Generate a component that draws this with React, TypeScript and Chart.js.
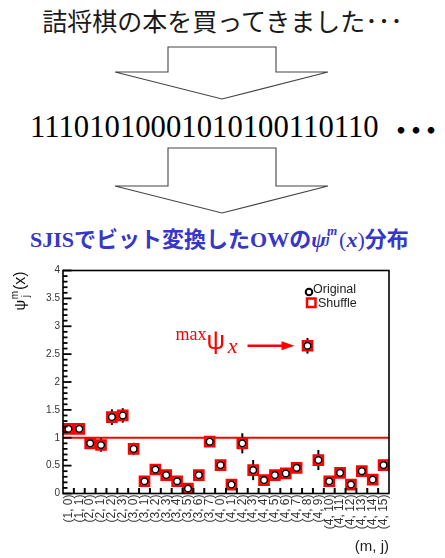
import React, { useEffect, useRef } from "react";
import { Chart, registerables } from "chart.js";

Chart.register(...registerables);

const CATEGORIES = [
  "(1, 0)", "(1, 1)",
  "(2, 0)", "(2, 1)", "(2, 2)", "(2, 3)",
  "(3, 0)", "(3, 1)", "(3, 2)", "(3, 3)", "(3, 4)", "(3, 5)", "(3, 6)", "(3, 7)",
  "(4, 0)", "(4, 1)", "(4, 2)", "(4, 3)", "(4, 4)", "(4, 5)", "(4, 6)", "(4, 7)",
  "(4, 8)", "(4, 9)", "(4, 10)", "(4, 11)", "(4, 12)", "(4, 13)", "(4, 14)", "(4, 15)",
];

const ORIGINAL = [
  1.16, 1.16, 0.9, 0.87, 1.37, 1.4, 0.8, 0.22, 0.43, 0.33, 0.22, 0.09, 0.33, 0.93,
  0.51, 0.16, 0.9, 0.42, 0.24, 0.33, 0.36, 0.46, 2.65, 0.6, 0.22, 0.37, 0.16, 0.4, 0.25, 0.51,
];

const ORIGINAL_ERR = [
  0.04, 0.04, 0.05, 0.12, 0.14, 0.13, 0.11, 0.05, 0.06, 0.05, 0.05, 0.04, 0.05, 0.06,
  0.06, 0.05, 0.18, 0.18, 0.05, 0.05, 0.05, 0.06, 0.14, 0.18, 0.05, 0.06, 0.05, 0.06, 0.05, 0.06,
];

const SHUFFLE = [
  1.16, 1.16, 0.9, 0.87, 1.37, 1.4, 0.8, 0.22, 0.43, 0.33, 0.22, 0.09, 0.33, 0.93,
  0.51, 0.16, 0.9, 0.42, 0.24, 0.33, 0.36, 0.46, 2.65, 0.6, 0.22, 0.37, 0.16, 0.4, 0.25, 0.51,
];

const Y_MIN = 0;
const Y_MAX = 4;
const Y_MAJOR_STEP = 0.5;
const Y_MINOR_STEP = 0.1;
const REFERENCE_LEVEL = 1;

const SANS = '"Liberation Sans", Arial, sans-serif';
const SERIF = '"Liberation Serif", "Times New Roman", serif';
const CJK = '"Noto Sans CJK JP", sans-serif';

const decorPlugin = {
  id: "decor",
  beforeDatasetsDraw(chart: any) {
    const { ctx, chartArea: a, scales } = chart;
    const x = scales.x;
    const y = scales.y;
    ctx.save();
    const yr = y.getPixelForValue(REFERENCE_LEVEL);
    ctx.strokeStyle = "#ff0000";
    ctx.lineWidth = 2;
    ctx.beginPath();
    ctx.moveTo(a.left, yr);
    ctx.lineTo(a.right, yr);
    ctx.stroke();
    ctx.strokeStyle = "#000";
    ctx.lineWidth = 2;
    ORIGINAL.forEach((v, i) => {
      const px = x.getPixelForValue(i);
      ctx.beginPath();
      ctx.moveTo(px, y.getPixelForValue(v - ORIGINAL_ERR[i]));
      ctx.lineTo(px, y.getPixelForValue(v + ORIGINAL_ERR[i]));
      ctx.stroke();
    });
    ctx.restore();
  },
  afterDraw(chart: any) {
    const { ctx, chartArea: a, scales } = chart;
    const x = scales.x;
    const y = scales.y;
    ctx.save();
    ctx.strokeStyle = "#000";
    ctx.lineWidth = 1.6;
    ctx.strokeRect(a.left, a.top, a.right - a.left, a.bottom - a.top);
    ctx.lineWidth = 1.8;
    const nMinor = Math.round((Y_MAX - Y_MIN) / Y_MINOR_STEP);
    const perMajor = Math.round(Y_MAJOR_STEP / Y_MINOR_STEP);
    for (let k = 0; k <= nMinor; k++) {
      const v = Y_MIN + k * Y_MINOR_STEP;
      const py = y.getPixelForValue(v);
      const len = k % perMajor === 0 ? 8.5 : 4.5;
      ctx.beginPath();
      ctx.moveTo(a.left, py);
      ctx.lineTo(a.left + len, py);
      ctx.stroke();
    }
    ctx.lineWidth = 2;
    for (let i = 1; i < CATEGORIES.length; i++) {
      const px = (x.getPixelForValue(i - 1) + x.getPixelForValue(i)) / 2;
      ctx.beginPath();
      ctx.moveTo(px, a.bottom);
      ctx.lineTo(px, a.bottom - 5.5);
      ctx.stroke();
    }
    // legend
    ctx.fillStyle = "#fff";
    ctx.strokeStyle = "#000";
    ctx.lineWidth = 2;
    ctx.beginPath();
    ctx.arc(a.right - 80, a.top + 21.5, 3.3, 0, Math.PI * 2);
    ctx.fill();
    ctx.stroke();
    ctx.strokeStyle = "#ff0000";
    ctx.lineWidth = 2.5;
    ctx.fillRect(a.right - 82, a.top + 28, 8.5, 8.5);
    ctx.strokeRect(a.right - 82, a.top + 28, 8.5, 8.5);
    ctx.fillStyle = "#222";
    ctx.font = `12.5px ${SANS}`;
    ctx.textAlign = "left";
    ctx.textBaseline = "alphabetic";
    ctx.fillText("Original", a.right - 76, a.top + 22);
    ctx.fillText("Shuffle", a.right - 71, a.top + 36.5);

    // annotation for max
    let imax = 0;
    ORIGINAL.forEach((v, i) => {
      if (v > ORIGINAL[imax]) imax = i;
    });
    const px = x.getPixelForValue(imax);
    const py = y.getPixelForValue(ORIGINAL[imax]);
    ctx.strokeStyle = "#ff0000";
    ctx.fillStyle = "#ff0000";
    ctx.lineWidth = 2.5;
    ctx.beginPath();
    ctx.moveTo(px - 60, py);
    ctx.lineTo(px - 22, py);
    ctx.stroke();
    ctx.beginPath();
    ctx.moveTo(px - 13, py);
    ctx.lineTo(px - 26, py - 4.5);
    ctx.lineTo(px - 26, py + 4.5);
    ctx.closePath();
    ctx.fill();
    ctx.textAlign = "right";
    ctx.font = `italic 22px ${SERIF}`;
    ctx.fillText("x", px - 70, py + 7.5);
    ctx.font = `26px ${SANS}`;
    ctx.textAlign = "left";
    ctx.fillText("ψ", px - 101, py + 3.5);
    ctx.textAlign = "right";
    ctx.font = `18px ${SERIF}`;
    ctx.fillText("max", px - 101, py - 6);

    // y axis title ψ_j^m(x)
    ctx.translate(25, a.top + 40);
    ctx.rotate(-Math.PI / 2);
    ctx.fillStyle = "#111";
    ctx.textAlign = "left";
    ctx.font = `15px ${SANS}`;
    ctx.fillText("ψ", 0, 0);
    const w = ctx.measureText("ψ").width;
    ctx.font = `10px ${SANS}`;
    ctx.fillText("m", w + 0.5, -7.5);
    ctx.fillText("j", w + 2.5, 3.5);
    const mw = ctx.measureText("m").width;
    ctx.font = `16px ${SANS}`;
    ctx.fillText("(x)", w + mw + 1.5, 0);
    ctx.restore();
  },
};

function PsiChart() {
  const ref = useRef<HTMLCanvasElement | null>(null);
  useEffect(() => {
    if (!ref.current) return;
    const chart = new Chart(ref.current, {
      type: "line",
      data: {
        labels: CATEGORIES,
        datasets: [
          {
            label: "Original",
            data: ORIGINAL,
            showLine: false,
            pointStyle: "circle",
            pointRadius: 3.3,
            pointBorderWidth: 1.4,
            pointBorderColor: "#000",
            pointBackgroundColor: "#fff",
            order: 0,
          },
          {
            label: "Shuffle",
            data: SHUFFLE,
            showLine: false,
            pointStyle: "rect",
            pointRadius: 6.4,
            pointBorderWidth: 2.6,
            pointBorderColor: "#ff0000",
            pointBackgroundColor: "#fff",
            order: 1,
          },
        ],
      },
      options: {
        responsive: false,
        animation: false,
        events: [],
        layout: { padding: { left: 0, right: 56, top: 10.5, bottom: 0 } },
        plugins: {
          legend: { display: false },
          tooltip: { enabled: false },
        },
        scales: {
          x: {
            type: "category",
            offset: true,
            grid: { display: false, drawTicks: false },
            border: { display: false },
            ticks: {
              autoSkip: false,
              maxRotation: 90,
              minRotation: 90,
              padding: 1,
              color: "#333",
              font: { family: SANS, size: 12 },
            },
            title: {
              display: true,
              text: "(m, j)",
              align: "end",
              color: "#222",
              font: { family: SANS, size: 15 },
              padding: { top: 0, bottom: 2.5 },
            },
            afterFit: (s: any) => {
              s.height = 64.5;
            },
          },
          y: {
            min: Y_MIN,
            max: Y_MAX,
            grid: { display: false, drawTicks: false },
            border: { display: false },
            ticks: {
              stepSize: Y_MAJOR_STEP,
              padding: 3,
              color: "#333",
              font: { family: SANS, size: 10 },
              callback: (v: any) => String(v),
            },
            afterFit: (s: any) => {
              s.width = 63;
            },
          },
        },
      },
      plugins: [decorPlugin],
    });
    return () => chart.destroy();
  }, []);
  return (
    <canvas
      ref={ref}
      width={445}
      height={298}
      style={{ position: "absolute", left: 0, top: 260, width: 445, height: 298 }}
    />
  );
}

const ARROW_1 = "168,47 276,47 276,72 328,72 222,99 115,72 168,72";
const ARROW_2 = "168,148 276,148 276,186 328,186 222,213 115,186 168,186";

export default function App() {
  return (
    <div
      style={{
        position: "absolute",
        left: 0,
        top: 0,
        width: 445,
        height: 558,
        background: "#fff",
        overflow: "hidden",
      }}
    >
      <div
        style={{
          position: "absolute",
          top: 8,
          left: 0,
          width: 445,
          textAlign: "center",
          fontFamily: CJK,
          fontSize: 25,
          lineHeight: 1,
          color: "#1a1a1a",
          whiteSpace: "nowrap",
        }}
      >
        詰将棋の本を買ってきました･･･
      </div>
      <svg
        width={445}
        height={260}
        style={{ position: "absolute", left: 0, top: 0 }}
      >
        <polygon points={ARROW_1} fill="#fff" stroke="#444" strokeWidth={1.1} />
        <polygon points={ARROW_2} fill="#fff" stroke="#444" strokeWidth={1.1} />
      </svg>
      <div
        style={{
          position: "absolute",
          top: 110,
          left: 30,
          fontFamily: SERIF,
          fontSize: 32,
          lineHeight: 1,
          color: "#000",
          whiteSpace: "nowrap",
          transform: "scaleX(0.96)",
          transformOrigin: "left top",
        }}
      >
        11101010001010100110110
      </div>
      <div
        style={{
          position: "absolute",
          top: 115.5,
          left: 388,
          fontFamily: CJK,
          fontSize: 26,
          fontWeight: 700,
          letterSpacing: -11,
          lineHeight: 1,
          color: "#000",
          whiteSpace: "nowrap",
        }}
      >
        ・・・
      </div>
      <div
        style={{
          position: "absolute",
          top: 225,
          left: 30,
          fontFamily: CJK,
          fontSize: 22,
          fontWeight: 700,
          lineHeight: 1,
          color: "#3636c8",
          whiteSpace: "nowrap",
        }}
      >
        <span style={{ fontFamily: SERIF }}>SJIS</span>でビット変換した
        <span style={{ fontFamily: SERIF }}>OW</span>の
        <span style={{ fontFamily: SERIF, fontStyle: "italic" }}>ψ</span>
        <span
          style={{
            display: "inline-block",
            position: "relative",
            width: "0.6em",
            height: "1em",
          }}
        >
          <span
            style={{
              position: "absolute",
              left: 1,
              top: "-0.05em",
              fontSize: "0.6em",
              fontFamily: SERIF,
              fontStyle: "italic",
            }}
          >
            m
          </span>
          <span
            style={{
              position: "absolute",
              left: 0,
              top: "0.55em",
              fontSize: "0.6em",
              fontFamily: SERIF,
              fontStyle: "italic",
            }}
          >
            j
          </span>
        </span>
        <span style={{ fontFamily: SERIF, fontWeight: 400 }}>(</span>
        <span style={{ fontFamily: SERIF, fontStyle: "italic" }}>x</span>
        <span style={{ fontFamily: SERIF, fontWeight: 400 }}>)</span>分布
      </div>
      <PsiChart />
    </div>
  );
}
